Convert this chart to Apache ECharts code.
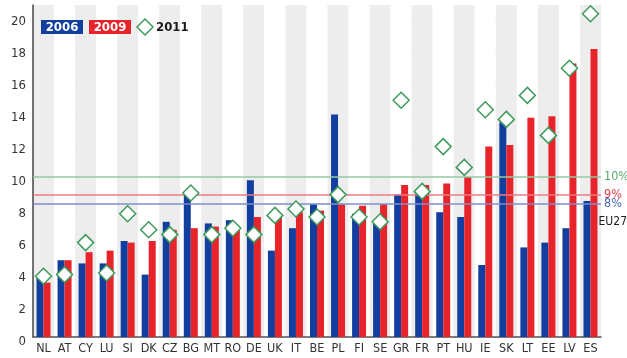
<!DOCTYPE html>
<html>
<head>
<meta charset="utf-8">
<script src="https://cdn.jsdelivr.net/npm/echarts@6/dist/echarts.min.js"></script>
<style>
  html, body { margin: 0; padding: 0; background: #fff; }
  #chart { width: 627px; height: 358px; }
</style>
</head>
<body>
<div id="chart"></div>
<script>
// Unemployment rate by member state (%), ordered by 2009 level
const countries = ['NL','AT','CY','LU','SI','DK','CZ','BG','MT','RO','DE','UK','IT','BE','PL','FI','SE','GR','FR','PT','HU','IE','SK','LT','EE','LV','ES'];
const rate2006 = [3.9, 4.8, 4.6, 4.6, 6.0, 3.9, 7.2, 8.9, 7.1, 7.3, 9.8, 5.4, 6.8, 8.3, 13.9, 7.7, 7.1, 8.9, 9.2, 7.8, 7.5, 4.5, 13.4, 5.6, 5.9, 6.8, 8.5];
const rate2009 = [3.4, 4.8, 5.3, 5.4, 5.9, 6.0, 6.7, 6.8, 6.9, 6.9, 7.5, 7.6, 7.8, 7.9, 8.3, 8.2, 8.3, 9.5, 9.5, 9.6, 10.0, 11.9, 12.0, 13.7, 13.8, 17.1, 18.0];
const rate2011 = [3.8, 3.9, 5.9, 4.0, 7.7, 6.7, 6.4, 9.0, 6.4, 6.8, 6.4, 7.6, 8.0, 7.5, 8.9, 7.5, 7.2, 14.8, 9.1, 11.9, 10.6, 14.2, 13.6, 15.1, 12.6, 16.8, 20.2];

// EU27 reference levels
const eu27Levels = [8.3, 8.9, 10.0];
const eu27Labels = ['8%', '9%', '10%'];

const FONT = "'DejaVu Sans Condensed', 'Liberation Sans Narrow', 'Roboto', sans-serif";
const BLUE = '#123f9f';
const RED = '#e8242b';
const GREEN = '#3e9a5c';
const lineColors = ['#7d8fca', '#ec7a84', '#93c9a0'];
const levelTextColors = ['#4a68b4', '#e23a46', '#58aa6c'];

const chart = echarts.init(document.getElementById('chart'), null, { renderer: 'canvas' });

// legend-like key drawn as plain graphic elements
const keyFont = 'bold 13px ' + FONT;
const keyElements = [
  { type: 'rect', z: 100, shape: { x: 41, y: 20, width: 42, height: 14 }, style: { fill: BLUE } },
  { type: 'text', z: 101, style: { x: 62, y: 27.5, text: '2006', fill: '#fff', font: keyFont, align: 'center', verticalAlign: 'middle' } },
  { type: 'rect', z: 100, shape: { x: 89, y: 20, width: 42, height: 14 }, style: { fill: RED } },
  { type: 'text', z: 101, style: { x: 110, y: 27.5, text: '2009', fill: '#fff', font: keyFont, align: 'center', verticalAlign: 'middle' } },
  { type: 'polygon', z: 100, shape: { points: [[145, 19], [153, 27], [145, 35], [137, 27]] }, style: { fill: '#fff', stroke: GREEN, lineWidth: 1.5 } },
  { type: 'text', z: 101, style: { x: 156, y: 27.5, text: '2011', fill: '#1a1a1a', font: keyFont, align: 'left', verticalAlign: 'middle' } },
  { type: 'text', z: 101, style: { x: 627, y: 222, text: 'EU27', fill: '#222', font: '12px ' + FONT, align: 'right', verticalAlign: 'middle' } }
];

chart.setOption({
  animation: false,
  backgroundColor: '#fff',
  grid: { left: 33, right: 26, top: 5, bottom: 21, containLabel: false },
  xAxis: {
    type: 'category',
    data: countries,
    axisLine: { show: true, lineStyle: { color: '#555', width: 1.5 } },
    axisTick: { show: false },
    axisLabel: { color: '#333', fontFamily: FONT, fontSize: 12.5, margin: 5, interval: 0 },
    splitArea: { show: true, areaStyle: { color: ['#ededed', '#ffffff'] } }
  },
  yAxis: {
    type: 'value',
    min: 0,
    max: 20.75,
    interval: 2,
    axisLine: { show: true, lineStyle: { color: '#444', width: 1.5 } },
    axisTick: { show: false },
    axisLabel: { color: '#333', fontFamily: FONT, fontSize: 13, margin: 7, showMaxLabel: false, verticalAlign: 'top', lineHeight: 9 },
    splitLine: { show: true, lineStyle: { color: '#dcdcdc', type: 'dotted', width: 1 } }
  },
  graphic: { elements: keyElements },
  series: [
    {
      name: 'EU27',
      type: 'line',
      data: [],
      z: 1,
      silent: true,
      markLine: {
        silent: true,
        symbol: 'none',
        animation: false,
        data: eu27Levels.map((v, i) => ({
          yAxis: v,
          lineStyle: { color: lineColors[i], width: 1.5, type: 'solid' },
          label: { formatter: eu27Labels[i], color: levelTextColors[i], fontFamily: FONT, fontSize: 12.5, position: 'end', distance: 3 }
        }))
      }
    },
    {
      name: '2006', type: 'bar', data: rate2006, barWidth: 7, barGap: '0%', z: 2,
      itemStyle: { color: BLUE }
    },
    {
      name: '2009', type: 'bar', data: rate2009, barWidth: 7, barGap: '0%', z: 2,
      itemStyle: { color: RED }
    },
    {
      name: '2011', type: 'scatter', data: rate2011, z: 5,
      symbol: 'diamond', symbolSize: [16, 16],
      itemStyle: { color: '#fff', borderColor: GREEN, borderWidth: 1.5, opacity: 1 }
    }
  ]
});
</script>
</body>
</html>
